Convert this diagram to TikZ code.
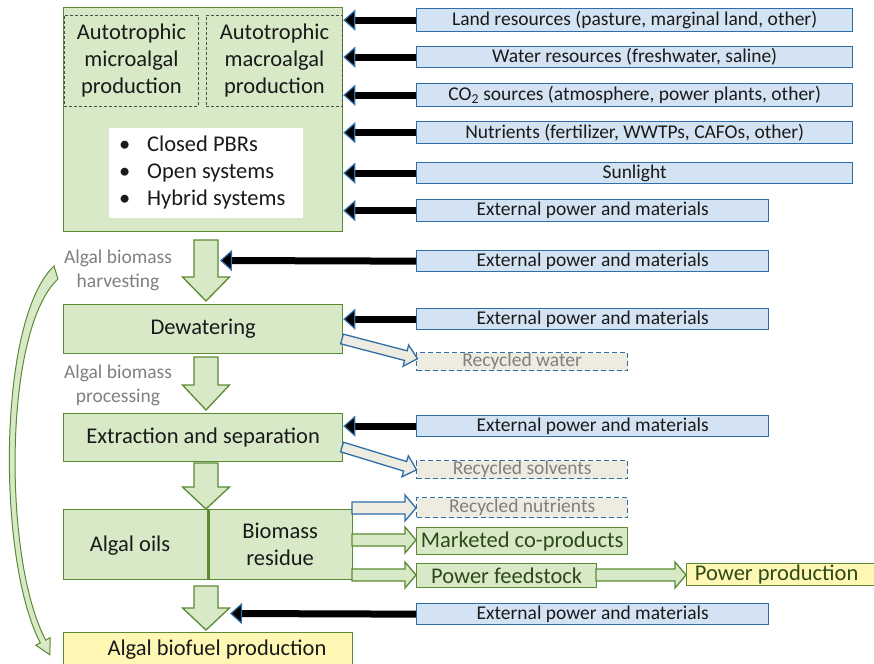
\documentclass[tikz,border=0pt]{standalone}
\usepackage{fontspec}
\setmainfont{Carlito}
\usetikzlibrary{arrows.meta}
\definecolor{gfill}{HTML}{D7E9C6}
\definecolor{gline}{HTML}{5A8A32}
\definecolor{bfill}{HTML}{D4E3F3}
\definecolor{bline}{HTML}{2F6EA8}
\definecolor{beige}{HTML}{EEECE1}
\definecolor{yfill}{HTML}{FFF8B4}
\definecolor{graytext}{HTML}{7F7F7F}
\definecolor{txt}{HTML}{1A1A1A}
\definecolor{gtxt}{HTML}{2E4A1A}
\newcommand\fsz[2]{\fontsize{#1pt}{#2pt}\selectfont}
% block arrow: style, x, y, angle, length, shaft half, head half, head length
\newcommand\barr[8]{\begin{scope}[shift={(#2,#3)},rotate=#4]\draw[#1] (0,#6)--(#5-#8,#6)--(#5-#8,#7)--(#5,0)--(#5-#8,-#7)--(#5-#8,-#6)--(0,-#6)--cycle;\end{scope}}
\tikzset{
  sz/.style 2 args={minimum width=#1pt, minimum height=#2pt},
  bx/.style={draw, line width=1.3pt, inner sep=0pt, anchor=north west, font=\fsz{19.5}{22}, text=txt},
  inbox/.style={bx, draw=bline, fill=bfill},
  recbox/.style={bx, draw=bline, fill=beige, dash pattern=on 5pt off 3pt, text=graytext},
  gbox/.style={bx, draw=gline, fill=gfill},
  ybox/.style={bx, draw=gline, fill=yfill},
  dbox/.style={draw=black!70, line width=0.9pt, dash pattern=on 3pt off 2pt, inner sep=0pt, anchor=north west, align=center, font=\fsz{22.5}{27}, text=txt},
  blk/.style={line width=7pt, black, -{Triangle[length=12pt,width=21pt,line width=1.2pt,color=bline,fill=black]}},
  garr/.style={draw=gline, fill=gfill, line width=1.3pt, line join=miter},
  barw/.style={draw=bline, fill=beige, line width=1.3pt, line join=miter},
  glab/.style={align=center, font=\fsz{19.5}{24}, text=graytext},
}
\begin{document}
\begin{tikzpicture}[x=1pt,y=-1pt]
\useasboundingbox (0,0) rectangle (874,663);
\clip (0,0) rectangle (874,663);

% main production box
\node[gbox, sz={279}{224}] (main) at (63,7) {};
\node[dbox, sz={134}{91}] (micro) at (64,15) {Autotrophic\\microalgal\\production};
\node[dbox, sz={136}{91}] (macro) at (206,15) {Autotrophic\\macroalgal\\production};
\node[fill=white, inner sep=0pt, sz={194}{90}, anchor=north west] (sys) at (109,128) {};
\node[anchor=west, align=left, font=\fsz{22.5}{27}, text=txt, inner sep=0pt] (systxt) at (119,173)
  {\makebox[28pt][l]{\textbullet}Closed PBRs\\\makebox[28pt][l]{\textbullet}Open systems\\\makebox[28pt][l]{\textbullet}Hybrid systems};

% inputs
\node[inbox, sz={436}{23}] (in1) at (416,8) {Land resources (pasture, marginal land, other)};
\node[inbox, sz={436}{21}] (in2) at (416,46) {Water resources (freshwater, saline)};
\node[inbox, sz={436}{23}] (in3) at (416,83) {CO\textsubscript{2} sources (atmosphere, power plants, other)};
\node[inbox, sz={436}{22}] (in4) at (416,121) {Nutrients (fertilizer, WWTPs, CAFOs, other)};
\node[inbox, sz={436}{21}] (in5) at (416,162) {Sunlight};
\node[inbox, sz={352}{22}] (in6) at (416,199) {External power and materials};
\node[inbox, sz={352}{21}] (ex1) at (416,250) {External power and materials};
\node[inbox, sz={352}{21}] (ex2) at (416,308) {External power and materials};
\node[inbox, sz={352}{21}] (ex3) at (416,415) {External power and materials};
\node[inbox, sz={352}{21}] (ex4) at (416,603) {External power and materials};

\foreach \n in {in1,in2,in3,in4,in5,in6}
  \draw[blk] (\n.west) -- (main.east |- \n.west);

% process chain
\barr{garr}{206}{240}{-90}{61}{12}{23.5}{24}
\node[glab] (harv) at (118,270) {Algal biomass\\harvesting};
\coordinate (t1) at (220,260.5);
\draw[blk] (ex1.west) -- (t1);

\node[gbox, sz={279}{49}, font=\fsz{22.5}{27}] (dew) at (63,304) {Dewatering};
\draw[blk] (ex2.west) -- (dew.east |- ex2.west);
\node[recbox, sz={211}{18}] (rw) at (416,352) {Recycled water};
\barr{barw}{342}{339}{-14.6}{78}{5}{11}{12}

\barr{garr}{206}{357}{-90}{53}{12}{23.5}{25}
\node[glab] (proc) at (118,385) {Algal biomass\\processing};

\node[gbox, sz={279}{48}, font=\fsz{22.5}{27}] (ext) at (63,413) {Extraction and separation};
\draw[blk] (ex3.west) -- (ext.east |- ex3.west);
\node[recbox, sz={211}{18}] (rs) at (416,460) {Recycled solvents};
\barr{barw}{342}{447}{-17}{78}{5}{11}{12}

\barr{garr}{206}{463}{-90}{46}{12}{23.5}{22}

\node[gbox, sz={144}{70}, font=\fsz{22.5}{27}] (oil) at (63,509) {};
\node[gbox, sz={145}{70}, font=\fsz{22.5}{27}, align=center] (res) at (207,509) {Biomass\\residue};
\node[font=\fsz{22.5}{27}, text=txt] (oiltxt) at (130,546) {Algal oils};
\draw[gline, line width=3pt] (oil.north east) -- (oil.south east);

\node[recbox, sz={211}{20}] (rn) at (416,497) {Recycled nutrients};
\node[gbox, sz={211}{27}, font=\fsz{22.5}{25}, text=gtxt] (mc) at (416,527) {Marketed co-products};
\node[gbox, sz={180}{24}, font=\fsz{22.5}{25}, text=gtxt] (pf) at (416,563) {Power feedstock};
\node[ybox, sz={200}{22}, font=\fsz{22.5}{25}, text=gtxt] (pp) at (686,563) {\hspace*{-20pt}Power production};
\barr{barw}{352}{508}{0}{64}{6}{13}{11}
\barr{garr}{352}{540}{0}{64}{6}{13}{11}
\barr{garr}{352}{575}{0}{64}{6}{13}{11}
\barr{garr}{596}{575}{0}{90}{6}{13}{11}

\barr{garr}{206}{586}{-90}{44}{12}{23.5}{22}
\coordinate (t4) at (230,613.5);
\draw[blk] (ex4.west) -- (t4);

\node[ybox, sz={289}{40}, font=\fsz{22.5}{27}] (fuel) at (63,632) {};
\node[font=\fsz{22.5}{27}, text=txt] (fueltxt) at (217,650) {Algal biofuel production};

% curved bypass arrow
\filldraw[draw=gline, fill=gfill, line width=1pt, line join=miter]
  (54,266) .. controls (-3,320) and (-3,560) .. (40.3,642.9) -- (35.9,645.2) -- (49.9,654.8)
  -- (50.1,637.8) -- (45.7,640.1) .. controls (3,560) and (3,330) .. (58,279) -- cycle;
\end{tikzpicture}
\end{document}
